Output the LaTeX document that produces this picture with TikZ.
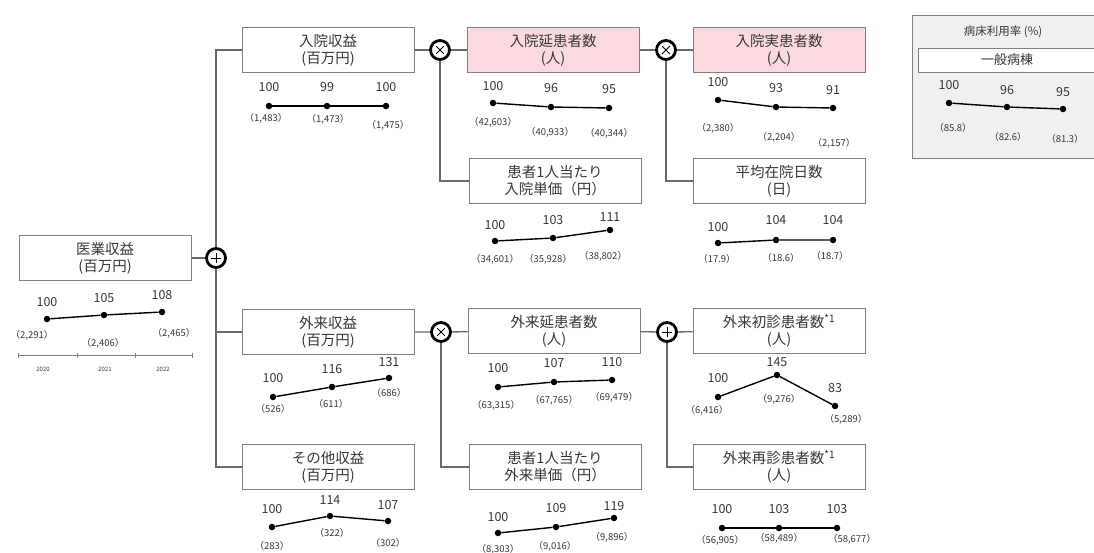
\documentclass[tikz,border=0pt]{standalone}
\usepackage{fontspec}
\setmainfont{Noto Sans CJK JP}
\definecolor{boxgray}{RGB}{128,128,128}
\definecolor{linkgray}{RGB}{105,105,105}
\definecolor{boxpink}{RGB}{250,218,222}
\definecolor{panelgray}{RGB}{240,240,240}
\definecolor{inkgray}{RGB}{55,55,55}

\begin{document}
\begin{tikzpicture}
	[x=1pt,y=-1pt,every node/.style={inner sep=0pt,text=inkgray},
	box/.style={draw=boxgray,line width=1pt,fill=white,minimum width=172pt,
		minimum height=45pt,align=center,font=\fontsize{14.5}{17}\selectfont},
	pinkbox/.style={box,fill=boxpink},
	op/.style={circle,draw,line width=2.8pt,fill=white,minimum size=19pt},
	opplus/.style={op,path picture={\draw[line width=1pt]
		([xshift=-5pt]path picture bounding box.center) -- ([xshift=5pt]path picture bounding box.center)
		([yshift=-5pt]path picture bounding box.center) -- ([yshift=5pt]path picture bounding box.center);}},
	optimes/.style={op,path picture={\draw[line width=1pt]
		([shift={(-3.8pt,-3.8pt)}]path picture bounding box.center) -- ([shift={(3.8pt,3.8pt)}]path picture bounding box.center)
		([shift={(-3.8pt,3.8pt)}]path picture bounding box.center) -- ([shift={(3.8pt,-3.8pt)}]path picture bounding box.center);}},
	link/.style={draw=linkgray,line width=1.3pt},
	trend/.style={line width=1.4pt},
	dot/.style={circle,fill,minimum size=6.5pt},
	idx/.style={font=\fontsize{12.5}{12.5}\selectfont},
	val/.style={font=\fontsize{9.5}{10}\selectfont},
	yr/.style={font=\fontsize{6}{6}\selectfont}]
	\useasboundingbox (0,0) rectangle (1094,552);
	
	% bed occupancy panel
	\draw[draw=boxgray,fill=panelgray] (912,15) rectangle (1110,158);
	\node[font=\fontsize{11.5}{12}\selectfont] (brt) at (1003,32) {病床利用率 (\%)};
	\node[box,minimum width=178pt,minimum height=24pt,font=\fontsize{13}{13}\selectfont] (brb) at (1007,60) {一般病棟};
	
	% boxes
	\node[box] (gy) at (105,258) {医業収益\\(百万円)};
	\node[box] (ni) at (328,50) {入院収益\\(百万円)};
	\node[pinkbox] (ne) at (553,50) {入院延患者数\\(人)};
	\node[pinkbox] (nj) at (779,50) {入院実患者数\\(人)};
	\node[box] (nt) at (555,181) {患者1人当たり\\入院単価（円）};
	\node[box] (hz) at (779,181) {平均在院日数\\(日)};
	\node[box] (gs) at (328,332) {外来収益\\(百万円)};
	\node[box] (ge) at (554,331) {外来延患者数\\(人)};
	\node[box] (gf) at (779,331) {外来初診患者数\textsuperscript{*1}\\(人)};
	\node[box] (so) at (328,467) {その他収益\\(百万円)};
	\node[box] (gt) at (555,467) {患者1人当たり\\外来単価（円）};
	\node[box] (gr) at (779,467) {外来再診患者数\textsuperscript{*1}\\(人)};
	
	% operators
	\node[opplus] (op1) at (216,258) {};
	\node[optimes] (op2) at (440,50) {};
	\node[optimes] (op3) at (666,50) {};
	\node[optimes] (op4) at (441,332) {};
	\node[opplus] (op5) at (667,332) {};
	
	% connectors
	\draw[link] (gy) -- (op1);
	\draw[link] (op1) |- (ni);
	\draw[link] (op1) |- (gs);
	\draw[link] (op1) |- (so);
	\draw[link] (ni) -- (op2) -- (ne) -- (op3) -- (nj);
	\draw[link] (op2) |- (nt);
	\draw[link] (op3) |- (hz);
	\draw[link] (gs) -- (op4) -- (ge) -- (op5) -- (gf);
	\draw[link] (op4) |- (gt);
	\draw[link] (op5) |- (gr);
	
	% trend charts: dot x/y, index, index y, value, value x/y
	\foreach \c/\pts in {
		gy/{47/319/100/302/{（2,291）}/32/335,104/315/105/298/{（2,406）}/103/343,162/312/108/295/{（2,465）}/174/333},
		ni/{269/106/100/87/{（1,483）}/266/118,327/106/99/87/{（1,473）}/328/119,386/106/100/87/{（1,475）}/388/125},
		ne/{493/103/100/86/{（42,603）}/493/122,551/107/96/88/{（40,933）}/550/132,609/108/95/89/{（40,344）}/609/133},
		nj/{718/100/100/82/{（2,380）}/718/128,776/107/93/88/{（2,204）}/779/137,833/108/91/90/{（2,157）}/834/143},
		br/{949/103/100/85/{（85.8）}/953/128,1007/107/96/90/{（82.6）}/1008/137,1063/109/95/92/{（81.3）}/1065/139},
		nt/{495/241/100/225/{（34,601）}/495/259,553/238/103/220/{（35,928）}/548/259,610/230/111/217/{（38,802）}/603/256},
		hz/{718/243/100/227/{（17.9）}/717/259,776/240/104/220/{（18.6）}/781/258,833/240/104/220/{（18.7）}/830/256},
		gs/{273/397/100/378/{（526）}/273/409,332/387/116/369/{（611）}/331/404,389/378/131/362/{（686）}/389/393},
		ge/{498/387/100/368/{（63,315）}/496/405,554/382/107/363/{（67,765）}/554/400,612/380/110/362/{（69,479）}/614/397},
		gf/{718/397/100/378/{（6,416）}/707/410,777/375/145/362/{（9,276）}/779/399,835/406/83/388/{（5,289）}/846/419},
		so/{272/527/100/509/{（283）}/272/546,330/516/114/500/{（322）}/332/533,388/521/107/505/{（302）}/388/543},
		gt/{498/533/100/517/{（8,303）}/498/549,556/527/109/508/{（9,016）}/555/546,614/518/119/506/{（9,896）}/612/537},
		gr/{722/528/100/509/{（56,905）}/720/540,779/528/103/509/{（58,489）}/779/538,837/528/103/509/{（58,677）}/852/539}}
	{
		\foreach [count=\i] \px/\py/\tv/\ty/\vv/\vx/\vy in \pts
		{
			\node[dot] (\c-\i) at (\px,\py) {};
			\node[idx] (\c-\i t) at (\px,\ty) {\tv};
			\node[val] (\c-\i v) at (\vx,\vy) {\vv};
		}
		\draw[trend] (\c-1) -- (\c-2) -- (\c-3);
	}
	
	% year axis
	\draw[line width=0.6pt,boxgray] (18,355) -- (192,355);
	\foreach \tx in {18,77,135,192}
	\draw[line width=0.6pt,boxgray] (\tx,352.5) -- (\tx,357.5);
	\foreach \yl/\yx in {2020/43,2021/105,2022/163}
	\node[yr] (yr\yl) at (\yx,369) {\yl};
\end{tikzpicture}
\end{document}
